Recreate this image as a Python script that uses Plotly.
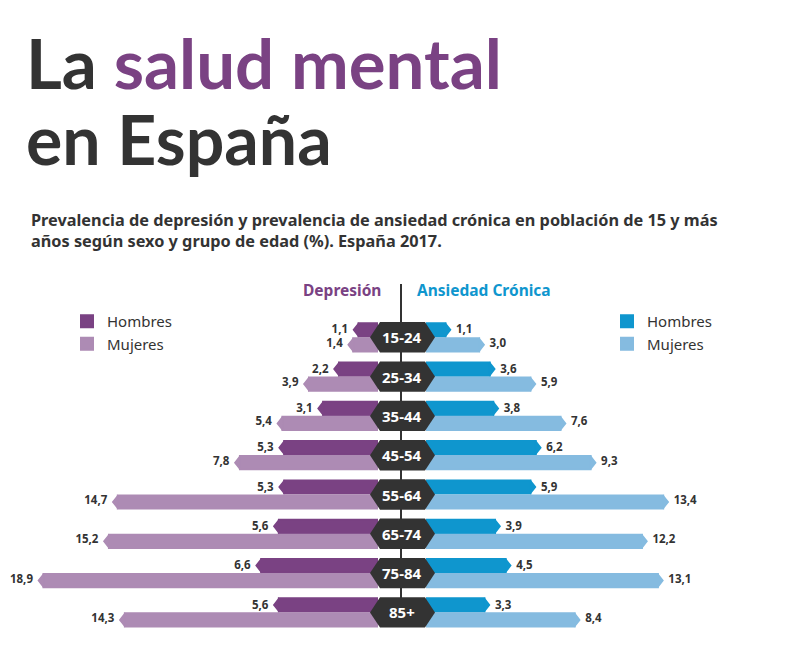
import plotly.graph_objects as go

# ---- data ----
age_groups = ["15-24", "25-34", "35-44", "45-54", "55-64", "65-74", "75-84", "85+"]
dep_hombres = [1.1, 2.2, 3.1, 5.3, 5.3, 5.6, 6.6, 5.6]
dep_mujeres = [1.4, 3.9, 5.4, 7.8, 14.7, 15.2, 18.9, 14.3]
ans_hombres = [1.1, 3.6, 3.8, 6.2, 5.9, 3.9, 4.5, 3.3]
ans_mujeres = [3.0, 5.9, 7.6, 9.3, 13.4, 12.2, 13.1, 8.4]

# ---- style / layout ----
W, H = 800, 657
PX_PER_UNIT = 17.7
LEFT_ZERO, RIGHT_ZERO = 378, 426
CENTER = 401
ROW0, ROW_STEP = 337.3, 39.3
BAR_OFFSET = 7.5 / ROW_STEP
BAR_WIDTH = 13.2 / ROW_STEP
TIP = 6 / PX_PER_UNIT
C_DEP_H, C_DEP_M = "#7A4283", "#AD8BB4"
C_ANS_H, C_ANS_M = "#0F96CE", "#85BBE0"
DARK = "#333333"
FONT = "Noto Sans"
TITLE_FONT = "Lato"


def row_y(px):
    return (px - ROW0) / ROW_STEP


fig = go.Figure()


def add_series(values, name, color, sign, xaxis, legend):
    ys = [i + sign * BAR_OFFSET for i in range(len(values))]
    fig.add_trace(go.Bar(
        x=values, y=ys, orientation="h", width=BAR_WIDTH, name=name,
        marker=dict(color=color, line=dict(color=color, width=2)),
        xaxis=xaxis, yaxis="y", legend=legend, legendgroup=legend + name,
        hoverinfo="x+name",
    ))
    tx, ty = [], []
    half = BAR_WIDTH / 2 + 1 / ROW_STEP
    for v, y in zip(values, ys):
        tx += [v, v + TIP, v, None]
        ty += [y - half, y, y + half, None]
    fig.add_trace(go.Scatter(
        x=tx, y=ty, mode="lines", fill="toself", fillcolor=color,
        line=dict(width=0, color=color), xaxis=xaxis, yaxis="y",
        showlegend=False, hoverinfo="skip",
    ))
    is_left = xaxis == "x"
    lx = [v + TIP + 4.5 / PX_PER_UNIT for v in values]
    fig.add_trace(go.Scatter(
        x=lx, y=[y - sign * 0.02 for y in ys], mode="text",
        text=[f"{v:.1f}".replace(".", ",") for v in values],
        textposition="middle left" if is_left else "middle right",
        textfont=dict(family=FONT, size=11.5, color=DARK, weight=700),
        xaxis=xaxis, yaxis="y", showlegend=False, hoverinfo="skip",
    ))


add_series(dep_hombres, "Hombres", C_DEP_H, -1, "x", "legend")
add_series(dep_mujeres, "Mujeres", C_DEP_M, 1, "x", "legend")
add_series(ans_hombres, "Hombres", C_ANS_H, -1, "x2", "legend2")
add_series(ans_mujeres, "Mujeres", C_ANS_M, 1, "x2", "legend2")

shapes = [dict(type="line", xref="paper", yref="paper",
               x0=CENTER / W, x1=CENTER / W, y0=1 - 284 / H, y1=1 - 605 / H,
               line=dict(color=DARK, width=2), layer="below")]
annotations = []
hex_half = 15.2 / ROW_STEP
for i, label_text in enumerate(age_groups):
    xs = [370, 380, 425, 435, 425, 380]
    ys = [i, i - hex_half, i - hex_half, i, i + hex_half, i + hex_half]
    path = "M " + " L ".join(f"{x / W:.5f} {y:.4f}" for x, y in zip(xs, ys)) + " Z"
    shapes.append(dict(type="path", xref="paper", yref="y", path=path,
                       fillcolor=DARK, line=dict(width=0), layer="above"))
    annotations.append(dict(xref="paper", yref="y", x=CENTER / W + 0.001, y=i, text=f"<b>{label_text}</b>",
                            showarrow=False, xanchor="center", yanchor="middle",
                            font=dict(family=FONT, size=15, color="white")))


def label(x, y, text, size, color, family=FONT, anchor="left"):
    annotations.append(dict(xref="paper", yref="paper", x=x / W, y=1 - y / H, text=text,
                            showarrow=False, xanchor=anchor, yanchor="middle", align="left",
                            borderpad=0, font=dict(family=family, size=size, color=color)))


label(25, 63, f'<b>La <span style="color:{C_DEP_H}">salud mental</span></b>', 69, DARK, TITLE_FONT)
label(25, 139, "<b>en España</b>", 68, DARK, TITLE_FONT)
label(30, 230, "<b>Prevalencia de depresión y prevalencia de ansiedad crónica en población de 15 y más<br>"
               "años según sexo y grupo de edad (%). España 2017.</b>", 16.3, DARK, FONT)
label(302, 290, "<b>Depresión</b>", 15.5, C_DEP_H)
label(416, 290, "<b>Ansiedad Crónica</b>", 15.5, C_ANS_H)

legend_style = dict(
    orientation="v", yanchor="top", xanchor="left", bgcolor="rgba(0,0,0,0)",
    tracegroupgap=2, traceorder="normal", itemclick=False, itemdoubleclick=False,
    font=dict(family=FONT, size=15, color=DARK),
)

fig.update_layout(
    width=W, height=H, autosize=False, margin=dict(l=0, r=0, t=0, b=0, pad=0),
    paper_bgcolor="white", plot_bgcolor="rgba(0,0,0,0)", barmode="overlay",
    xaxis=dict(domain=[0, LEFT_ZERO / W], range=[LEFT_ZERO / PX_PER_UNIT, 0], visible=False, fixedrange=True),
    xaxis2=dict(domain=[RIGHT_ZERO / W, 1], range=[0, (W - RIGHT_ZERO) / PX_PER_UNIT], visible=False,
                anchor="y", fixedrange=True),
    yaxis=dict(domain=[0, 1], range=[row_y(H), row_y(0)], visible=False, fixedrange=True),
    legend=dict(x=67 / W, y=1 - 305 / H, **legend_style),
    legend2=dict(x=607 / W, y=1 - 305 / H, **legend_style),
    shapes=shapes, annotations=annotations, showlegend=True,
)

fig.write_html("out.html", config={"displayModeBar": False},
               post_script="document.body.style.margin='0';")
